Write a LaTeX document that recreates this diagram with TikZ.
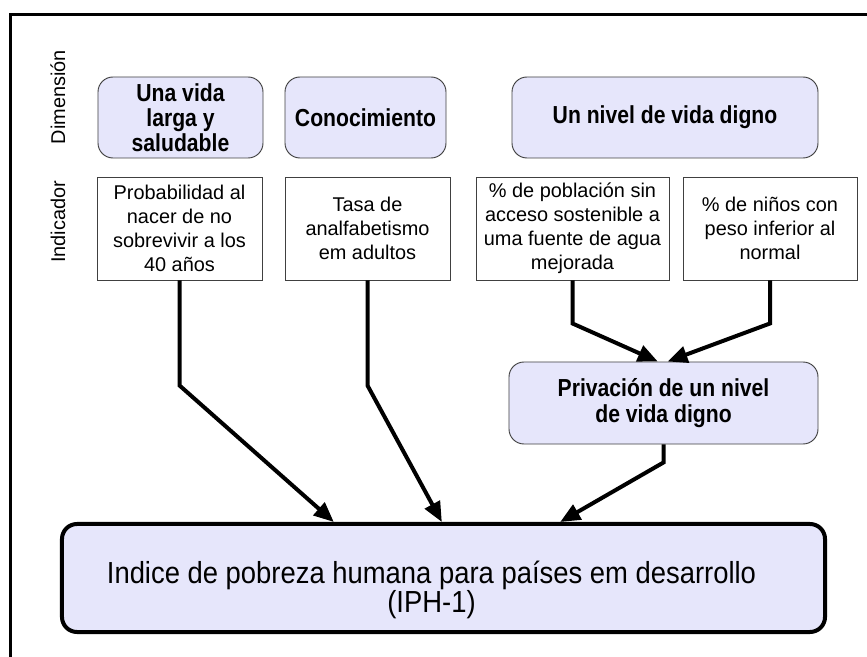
\documentclass[tikz,border=0pt]{standalone}
\usepackage{fontspec}
\setmainfont{Liberation Sans}
\newfontfamily\estrecha[FakeStretch=0.86]{Liberation Sans}
\newfontfamily\estrechab[FakeStretch=0.9]{Liberation Sans}
\usetikzlibrary{arrows.meta}
\definecolor{lila}{RGB}{230,230,251}

\begin{document}
\begin{tikzpicture}[x=0.03cm, y=-0.03cm,
    dimbox/.style = {draw=black!75, line width=0.8pt, fill=lila, rounded corners=0.45cm,
                     align=center, inner sep=0pt, minimum height=2.43cm,
                     font=\estrecha\bfseries\fontsize{21}{21.5}\selectfont},
    indbox/.style = {draw=black!75, line width=0.8pt, fill=white, align=center,
                     inner sep=0pt, minimum height=3.09cm,
                     font=\fontsize{17}{20.5}\selectfont},
    etiqueta/.style = {rotate=90, font=\fontsize{17}{19}\selectfont},
    flecha/.style = {line width=0.12cm, -{Triangle[length=0.6cm,width=0.5cm]}}]
      \useasboundingbox (0,0) rectangle (867,657);
      \draw[line width=0.09cm] (867,15) -- (10,15) -- (10,657);

      \node[etiqueta] (dim) at (58,97) {Dimensión};
      \node[etiqueta] (ind) at (58,222) {Indicador};

      \node[dimbox, minimum width=4.95cm] (vida)  at (180.5,117.5) {Una vida\\larga y\\saludable};
      \node[dimbox, minimum width=4.83cm] (cono)  at (365.5,117.5) {Conocimiento};
      \node[dimbox, minimum width=9.18cm] (nivel) at (665,117.5)   {Un nivel de vida digno};

      \node[indbox, minimum width=4.95cm] (prob)  at (179.5,228.5) {Probabilidad al\\nacer de no\\sobrevivir a los\\40 años};
      \node[indbox, minimum width=4.95cm] (tasa)  at (367.5,228.5) {Tasa de\\analfabetismo\\em adultos};
      \node[indbox, minimum width=5.79cm] (pob)   at (572.5,228.5) {\% de población sin\\acceso sostenible a\\uma fuente de agua\\mejorada};
      \node[indbox, minimum width=5.22cm] (ninos) at (770,228.5)   {\% de niños con\\peso inferior al\\normal};

      \node[dimbox, minimum width=9.27cm, minimum height=2.46cm] (priv) at (663.5,403) {Privación de un nivel\\de vida digno};

      \node[draw, line width=0.12cm, fill=lila, rounded corners=0.45cm,
            minimum width=22.89cm, minimum height=3.24cm] (iph) at (443.5,578) {};
      \node[align=center, font=\estrechab\fontsize{26}{24}\selectfont] (iphtxt)
            at ([xshift=-0.36cm, yshift=-0.36cm]iph.center)
            {Indice de pobreza humana para países em desarrollo\\(IPH-1)};

      \draw[flecha] (pob.south)   -- ++(0,43)  -- ([xshift=-0.17cm]priv.north);
      \draw[flecha] (ninos.south) -- ++(0,43)  -- ([xshift=0.12cm]priv.north);
      \draw[flecha] (prob.south)  -- ++(0,105) -- ([xshift=-3.29cm]iph.north);
      \draw[flecha] (tasa.south)  -- ++(0,105) -- ([xshift=-0.05cm]iph.north);
      \draw[flecha] (priv.south)  -- ++(0,18)  -- ([xshift=3.5cm]iph.north);
\end{tikzpicture}
\end{document}
